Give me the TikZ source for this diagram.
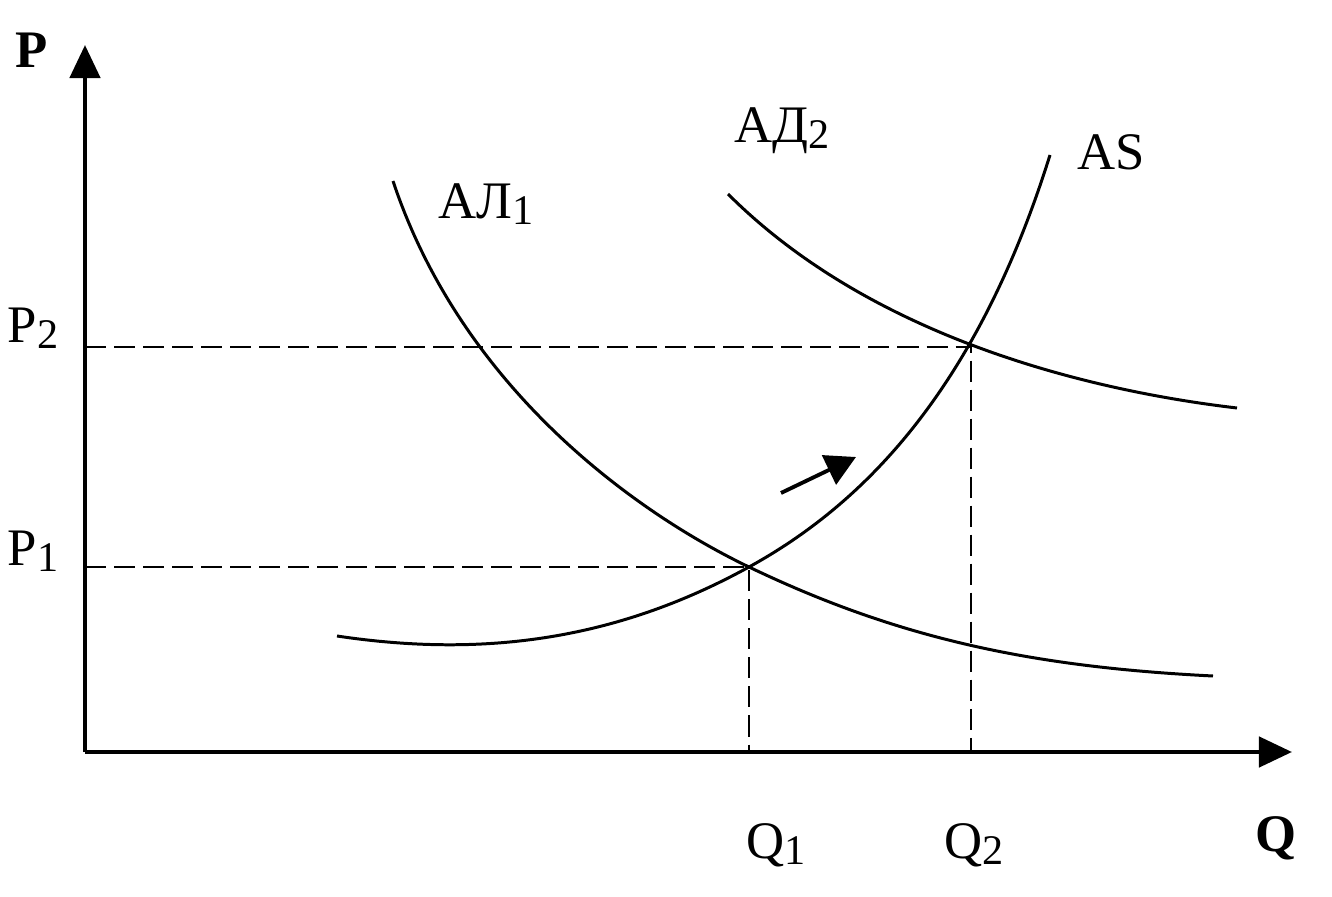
\documentclass[tikz,border=0pt]{standalone}
\usepackage{fontspec}
\setmainfont{Liberation Serif}
\usetikzlibrary{arrows.meta}
\tikzset{
  axis/.style={line width=1.3pt,-{Triangle[length=0.33cm,width=0.3cm]}},
  curve/.style={line width=0.85pt},
  guide/.style={line width=0.8pt,dash pattern=on 0.21cm off 0.08cm},
  lbl/.style={font=\fontsize{15}{18}\selectfont,inner sep=0pt},
  blbl/.style={font=\fontsize{15}{18}\selectfont\bfseries,inner sep=0pt},
  shiftarrow/.style={line width=1.1pt,-{Triangle[length=0.3cm,width=0.32cm]}}
}
\newcommand{\sub}[1]{\raisebox{-0.25ex}{\fontsize{12}{14}\selectfont #1}}
\begin{document}
\begin{tikzpicture}[x=0.01cm,y=-0.01cm]
\useasboundingbox (0,0) rectangle (1332,897);
\coordinate (O) at (85,752);
\coordinate (Ytop) at (85,45);
\coordinate (Xend) at (1292,752);
\coordinate (E1) at (749,567);
\coordinate (E2) at (971,347);
\coordinate (P1a) at (85,567);
\coordinate (P2a) at (85,347);
\coordinate (Q1a) at (749,752);
\coordinate (Q2a) at (971,752);
\coordinate (Sa) at (781,493);
\coordinate (Sb) at (856,457);
\coordinate (D1s) at (393,181);
\coordinate (D1e) at (1213,676);
\coordinate (D2s) at (728,194);
\coordinate (D2e) at (1237,408);
\coordinate (Ss) at (337,636);
\coordinate (Se) at (1050,155);

\draw[guide] (P2a) -- (E2) -- (Q2a);
\draw[guide] (P1a) -- (E1) -- (Q1a);

\draw[axis] (O) -- (Ytop);
\draw[axis] (O) -- (Xend);

\draw[curve] (D1s) .. controls (463,391) and (639,514.2) .. (E1)
             .. controls (899,639) and (1033,667) .. (D1e);
\draw[curve] (D2s) .. controls (873,339) and (1092,391) .. (D2e);
\draw[curve] (Ss) .. controls (487,658.5) and (619,638.5) .. (E1)
             .. controls (859,506.5) and (975,395) .. (Se);

\draw[shiftarrow] (Sa) -- (Sb);

\node[blbl] (P) at (32,50) {P};
\node[blbl] (Q) at (1276,838) {Q};
\node[lbl] (P2) at (33,328) {P\sub{2}};
\node[lbl] (P1) at (33,551) {P\sub{1}};
\node[lbl] (Q1) at (776,845) {Q\sub{1}};
\node[lbl] (Q2) at (974,845) {Q\sub{2}};
\node[lbl] (AD1) at (486,204) {АЛ\sub{1}};
\node[lbl] (AD2) at (782,131) {АД\sub{2}};
\node[lbl] (AS) at (1111,152) {AS};
\end{tikzpicture}
\end{document}
